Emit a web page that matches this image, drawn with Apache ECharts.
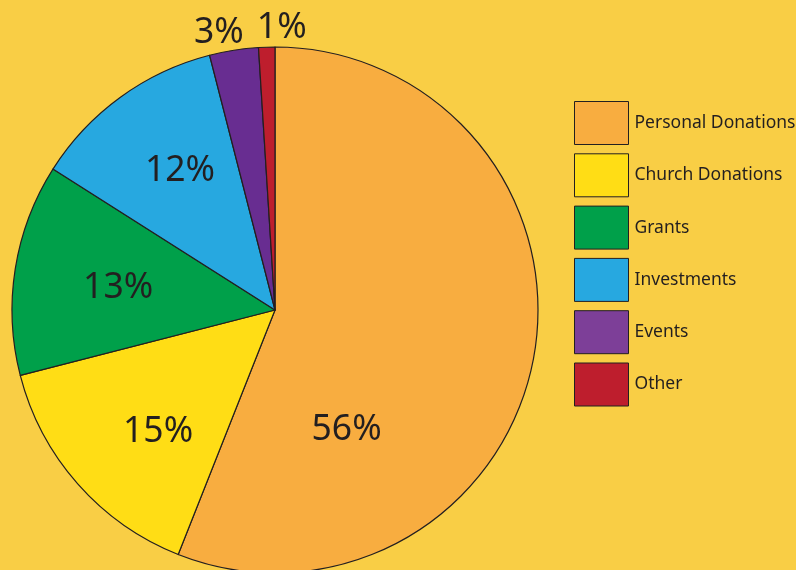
<!DOCTYPE html>
<html>
<head>
<meta charset="utf-8">
<script src="https://cdn.jsdelivr.net/npm/echarts@6/dist/echarts.min.js"></script>
<style>
html,body{margin:0;padding:0;background:#F9CE45;}
#chart{width:796px;height:570px;}
</style>
</head>
<body>
<div id="chart"></div>
<script>
var categories = ['Personal Donations', 'Church Donations', 'Grants', 'Investments', 'Events', 'Other'];
var values = [56, 15, 13, 12, 3, 1];
var sliceColors = ['#F8AD40', '#FFDD15', '#00A04A', '#27A8E0', '#682D91', '#BE1E2D'];
var legendColors = ['#F8AD40', '#FFDD15', '#00A04A', '#27A8E0', '#7D3F98', '#BE1E2D'];
// label nudges (style config, not data)
var labelOffsets = [[-60.5, 95], [-16, 33], [-24, -1], [-16, -30], [-35, -144], [11, -148]];

var chart = echarts.init(document.getElementById('chart'), null, {renderer: 'canvas'});
var seriesData = categories.map(function (name, i) {
  return {
    name: name,
    value: values[i],
    itemStyle: {color: sliceColors[i]},
    label: {offset: labelOffsets[i]}
  };
});
var legendData = categories.map(function (name, i) {
  return {name: name, itemStyle: {color: legendColors[i]}};
});
chart.setOption({
  backgroundColor: '#F9CE45',
  animation: false,
  legend: {
    orient: 'vertical',
    left: 574,
    top: 101,
    padding: 0,
    itemWidth: 54,
    itemHeight: 43,
    itemGap: 8.3,
    icon: 'rect',
    itemStyle: {borderColor: '#231F20', borderWidth: 1},
    textStyle: {fontFamily: 'Noto Sans', fontSize: 17.5, color: '#231F20', padding: [0, 0, 0, 1]},
    selectedMode: false,
    data: legendData
  },
  series: [{
    type: 'pie',
    center: [275, 310],
    radius: 263,
    startAngle: 90,
    clockwise: true,
    silent: true,
    itemStyle: {borderColor: '#231F20', borderWidth: 1.2},
    label: {
      show: true,
      position: 'inside',
      formatter: '{c}%',
      fontFamily: 'Noto Sans',
      fontSize: 35.5,
      color: '#231F20'
    },
    labelLine: {show: false},
    data: seriesData
  }]
});
</script>
</body>
</html>
